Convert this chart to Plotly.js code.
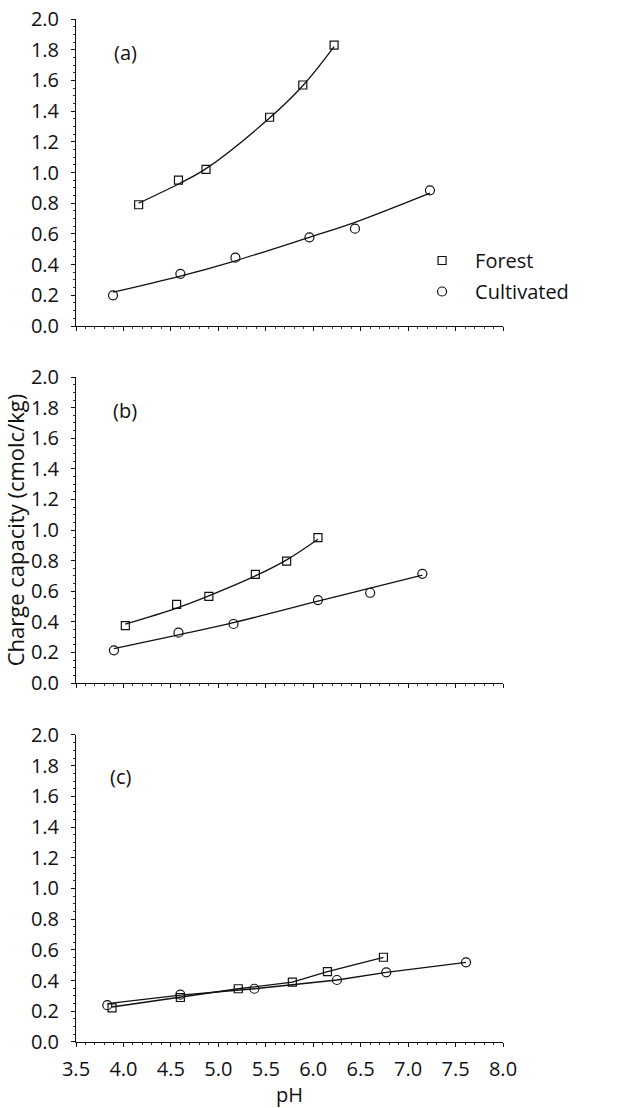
<!DOCTYPE html>
<html><head><meta charset="utf-8">
<script src="https://cdn.plot.ly/plotly-3.0.1.min.js"></script>
<style>body{margin:0;background:#fff}</style>
</head><body><div id="chart" style="width:620px;height:1108px"></div>
<script>
// ---- Panel (a) ----
const forestA_pH = [4.16, 4.58, 4.87, 5.54, 5.89, 6.22];
const forestA_cc = [0.79, 0.95, 1.02, 1.36, 1.57, 1.83];
const cultA_pH   = [3.89, 4.60, 5.18, 5.96, 6.44, 7.23];
const cultA_cc   = [0.20, 0.34, 0.445, 0.578, 0.634, 0.884];
const forestA_fit_pH = [4.16, 4.58, 4.87, 5.54, 5.89, 6.22];
const forestA_fit_cc = [0.80, 0.925, 1.025, 1.355, 1.565, 1.82];
const cultA_fit_pH   = [3.89, 4.60, 5.18, 5.96, 6.44, 7.23];
const cultA_fit_cc   = [0.22, 0.325, 0.425, 0.578, 0.675, 0.865];

// ---- Panel (b) ----
const forestB_pH = [4.02, 4.56, 4.90, 5.39, 5.72, 6.05];
const forestB_cc = [0.375, 0.514, 0.567, 0.71, 0.797, 0.95];
const cultB_pH   = [3.90, 4.58, 5.16, 6.05, 6.60, 7.15];
const cultB_cc   = [0.214, 0.329, 0.386, 0.542, 0.59, 0.714];
const forestB_fit_pH = [4.02, 4.56, 4.90, 5.39, 5.72, 6.05];
const forestB_fit_cc = [0.385, 0.49, 0.57, 0.70, 0.805, 0.94];
const cultB_fit_pH   = [3.90, 4.58, 5.16, 6.05, 6.60, 7.15];
const cultB_fit_cc   = [0.225, 0.315, 0.395, 0.535, 0.62, 0.705];

// ---- Panel (c) ----
const forestC_pH = [3.88, 4.60, 5.21, 5.78, 6.15, 6.74];
const forestC_cc = [0.222, 0.29, 0.347, 0.39, 0.458, 0.552];
const cultC_pH   = [3.83, 4.60, 5.38, 6.25, 6.77, 7.61];
const cultC_cc   = [0.24, 0.308, 0.347, 0.404, 0.454, 0.519];
const forestC_fit_pH = [3.88, 4.60, 5.21, 5.78, 6.15, 6.74];
const forestC_fit_cc = [0.228, 0.29, 0.347, 0.39, 0.458, 0.552];
const cultC_fit_pH   = [3.83, 4.60, 5.38, 6.25, 6.77, 7.61];
const cultC_fit_cc   = [0.25, 0.305, 0.347, 0.404, 0.454, 0.519];

const panelLabels = ['(a)', '(b)', '(c)'];
const seriesNames = ['Forest', 'Cultivated'];

const FONT = 'Open Sans, Noto Sans, sans-serif';
const FS = 20;
const lineStyle = {color: '#111', width: 1.3, shape: 'spline', smoothing: 1.0};
const sqMarker = {symbol: 'square-open', size: 8, color: '#111', line: {width: 1.2, color: '#111'}};
const ciMarker = {symbol: 'circle-open', size: 9, color: '#111', line: {width: 1.2, color: '#111'}};

function fit(x, y, ax, shape) {
  const ls = Object.assign({}, lineStyle);
  if (shape) ls.shape = shape;
  return {x: x, y: y, xaxis: 'x' + ax, yaxis: 'y' + ax, mode: 'lines', line: ls, showlegend: false, hoverinfo: 'skip'};
}
function pts(x, y, ax, marker, name, show, grp) {
  return {x: x, y: y, xaxis: 'x' + ax, yaxis: 'y' + ax, mode: 'markers', marker: marker, name: name, showlegend: show, legendgroup: grp};
}

const data = [
  fit(forestA_fit_pH, forestA_fit_cc, ''), fit(cultA_fit_pH, cultA_fit_cc, ''),
  pts(forestA_pH, forestA_cc, '', sqMarker, seriesNames[0], true, 'f'),
  pts(cultA_pH, cultA_cc, '', ciMarker, seriesNames[1], true, 'c'),
  fit(forestB_fit_pH, forestB_fit_cc, '2'), fit(cultB_fit_pH, cultB_fit_cc, '2'),
  pts(forestB_pH, forestB_cc, '2', sqMarker, seriesNames[0], false, 'f'),
  pts(cultB_pH, cultB_cc, '2', ciMarker, seriesNames[1], false, 'c'),
  fit(forestC_fit_pH, forestC_fit_cc, '3', 'linear'), fit(cultC_fit_pH, cultC_fit_cc, '3', 'linear'),
  pts(forestC_pH, forestC_cc, '3', sqMarker, seriesNames[0], false, 'f'),
  pts(cultC_pH, cultC_cc, '3', ciMarker, seriesNames[1], false, 'c')
];

function xax(anchor, labels) {
  return {
    anchor: anchor, domain: [0, 1], range: [3.5, 8.0], dtick: 0.5, tick0: 3.5,
    tickformat: '.1f', showticklabels: labels, ticks: 'outside', ticklen: 4, tickwidth: 1, tickcolor: '#111',
    ticklabelstandoff: 5,
    minor: {dtick: 0.1, ticks: 'outside', ticklen: 2, tickcolor: '#333'},
    showline: true, linecolor: '#111', linewidth: 1, showgrid: false, zeroline: false,
    tickfont: {family: FONT, size: FS, color: '#111'}
  };
}
function yax(anchor, dom) {
  return {
    anchor: anchor, domain: dom, range: [0, 2.0], dtick: 0.2, tick0: 0, tickformat: '.1f',
    ticks: 'outside', ticklen: 4, tickwidth: 1, tickcolor: '#111',
    ticklabelstandoff: 8,
    minor: {dtick: 0.05, ticks: 'outside', ticklen: 2, tickcolor: '#333'},
    showline: true, linecolor: '#111', linewidth: 1, showgrid: false, zeroline: false,
    tickfont: {family: FONT, size: FS, color: '#111'}
  };
}

const xa3 = xax('y3', true);
xa3.title = {text: 'pH', font: {family: FONT, size: FS, color: '#111'}, standoff: 10};
const ya2 = yax('x2', [0.3509, 0.65]);
ya2.title = {text: 'Charge capacity (cmolc/kg)', font: {family: FONT, size: 22, color: '#111'}, standoff: 2};

const layout = {
  width: 620, height: 1108,
  margin: {l: 76, r: 117, t: 19, b: 66},
  paper_bgcolor: '#fff', plot_bgcolor: '#fff',
  font: {family: FONT, size: FS, color: '#111'},
  showlegend: true,
  legend: {x: 0.78, y: 0.783, xref: 'paper', yref: 'paper', xanchor: 'left', yanchor: 'top', itemwidth: 56,
    bgcolor: 'rgba(0,0,0,0)', font: {family: FONT, size: FS, color: '#111'}, tracegroupgap: 2, traceorder: 'grouped'},
  xaxis: xax('y', false), yaxis: yax('x', [0.6999, 1]),
  xaxis2: xax('y2', false), yaxis2: ya2,
  xaxis3: xa3, yaxis3: yax('x3', [0, 0.3001]),
  annotations: [
    {text: panelLabels[0], x: 4.02, y: 1.785, xref: 'x', yref: 'y', showarrow: false, font: {family: FONT, size: FS, color: '#111'}},
    {text: panelLabels[1], x: 4.02, y: 1.78, xref: 'x2', yref: 'y2', showarrow: false, font: {family: FONT, size: FS, color: '#111'}},
    {text: panelLabels[2], x: 3.97, y: 1.73, xref: 'x3', yref: 'y3', showarrow: false, font: {family: FONT, size: FS, color: '#111'}}
  ]
};

Plotly.newPlot('chart', data, layout, {displayModeBar: false, staticPlot: true});
</script>
</body></html>
